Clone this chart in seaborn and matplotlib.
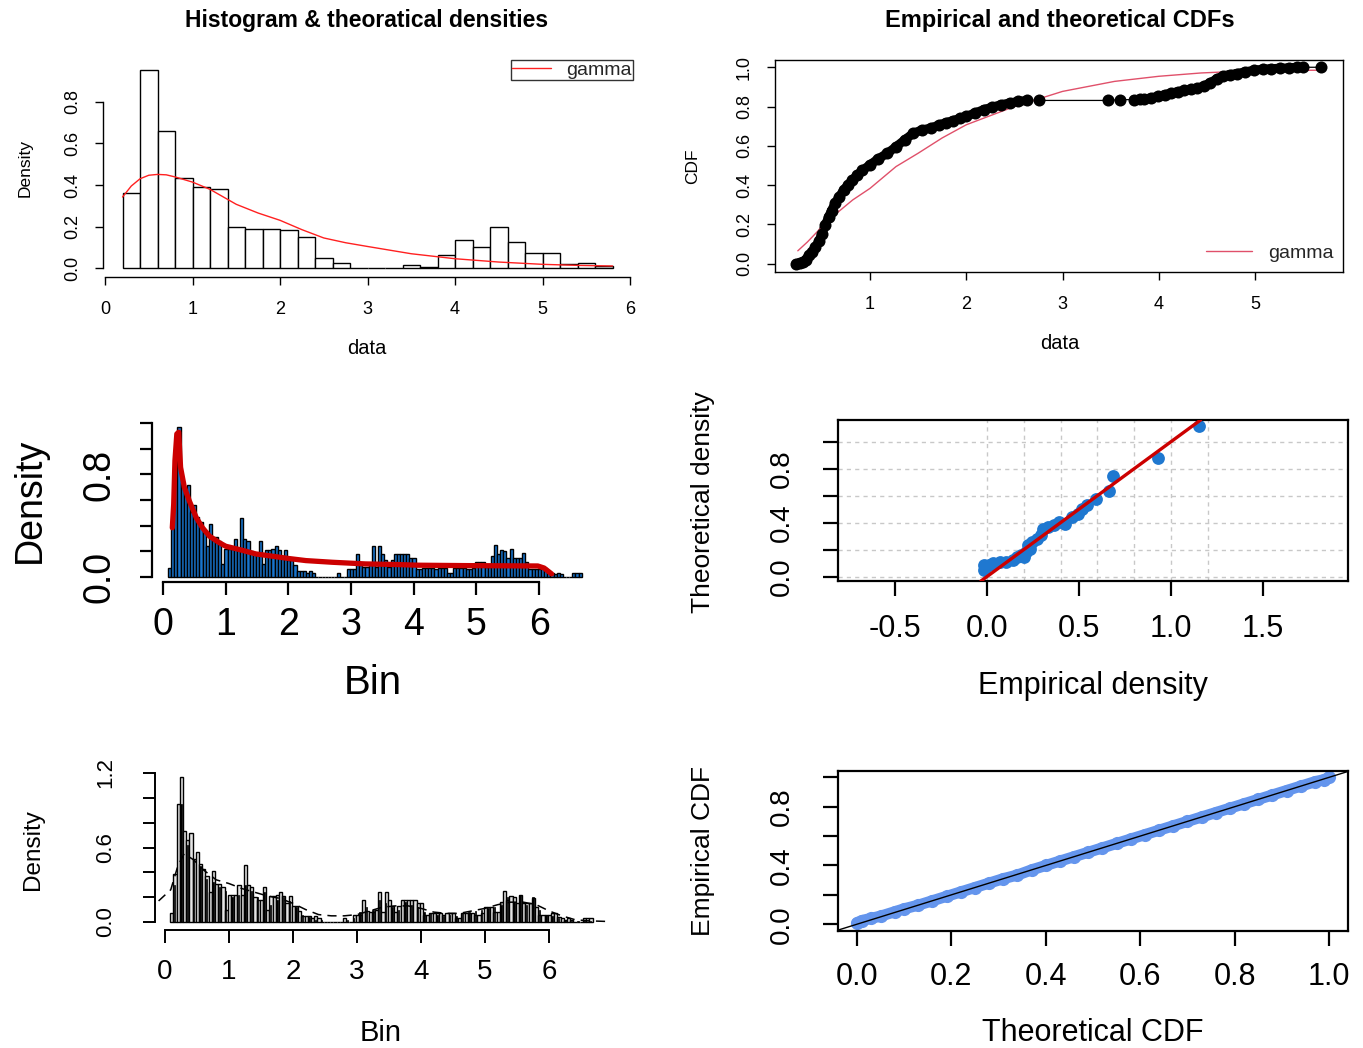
import numpy as np
import pandas as pd
import matplotlib
matplotlib.use("Agg")
import matplotlib.pyplot as plt
from matplotlib.lines import Line2D
import seaborn as sns

# ---------------- data ----------------
# top left: coarse histogram (density) + fitted gamma density
HIST_BREAKS = np.round(np.arange(0.2, 5.8 + 1e-9, 0.2), 1)
HIST_DENSITY = [0.361, 0.956, 0.660, 0.434, 0.390, 0.382, 0.196, 0.190, 0.190, 0.185,
                0.151, 0.048, 0.026, 0.0, 0.0, 0.0, 0.016, 0.005, 0.063, 0.135,
                0.103, 0.196, 0.124, 0.072, 0.072, 0.021, 0.026, 0.010]
GAMMA_PDF_X = [0.2, 0.3, 0.4, 0.5, 0.6, 0.7, 0.8, 1.0, 1.2, 1.5, 1.75, 2.0, 2.25, 2.5,
               2.75, 3.0, 3.5, 4.0, 4.5, 5.0, 5.4, 5.8]
GAMMA_PDF_Y = [0.342, 0.395, 0.430, 0.447, 0.451, 0.449, 0.439, 0.414, 0.379, 0.307,
               0.265, 0.230, 0.185, 0.145, 0.122, 0.104, 0.069, 0.045, 0.029, 0.018,
               0.013, 0.010]

# top right: empirical CDF + gamma CDF
ECDF_X = [0.23, 0.27, 0.30, 0.33, 0.365, 0.40, 0.433, 0.47, 0.50, 0.535, 0.57, 0.60,
          0.637, 0.68, 0.727, 0.77, 0.818, 0.87, 0.92, 1.0, 1.08, 1.18, 1.27, 1.36,
          1.45, 1.54, 1.63, 1.72, 1.79, 1.86, 1.93, 2.0, 2.09, 2.18, 2.27, 2.36, 2.45,
          2.54, 2.63, 2.76, 3.47, 3.60, 3.74, 3.80, 3.85, 3.92, 3.99, 4.06, 4.13, 4.20,
          4.26, 4.33, 4.40, 4.47, 4.53, 4.60, 4.67, 4.74, 4.81, 4.90, 4.99, 5.08, 5.17,
          5.26, 5.35, 5.44, 5.50, 5.69]
ECDF_F = [0.0, 0.003, 0.009, 0.020, 0.043, 0.060, 0.085, 0.115, 0.153, 0.195, 0.238,
          0.270, 0.307, 0.340, 0.375, 0.400, 0.426, 0.450, 0.475, 0.503, 0.532, 0.562,
          0.595, 0.630, 0.664, 0.681, 0.690, 0.707, 0.718, 0.728, 0.739, 0.750, 0.767,
          0.784, 0.797, 0.809, 0.818, 0.826, 0.831, 0.831, 0.831, 0.835, 0.835, 0.836,
          0.838, 0.844, 0.852, 0.860, 0.869, 0.876, 0.882, 0.887, 0.894, 0.905, 0.920,
          0.940, 0.957, 0.963, 0.968, 0.977, 0.985, 0.990, 0.993, 0.995, 0.997, 1.0,
          1.0, 1.0]
GAMMA_CDF_X = [0.25, 0.35, 0.5, 0.65, 0.82, 1.0, 1.27, 1.5, 1.75, 2.0, 2.5, 3.0, 3.54,
               4.0, 4.44, 5.0, 5.69]
GAMMA_CDF_F = [0.065, 0.110, 0.187, 0.255, 0.324, 0.383, 0.494, 0.562, 0.640, 0.707,
               0.800, 0.877, 0.928, 0.954, 0.971, 0.983, 0.985]

# middle left / bottom left: fine histogram (bin 0.05) + fitted curve
FINE_BREAKS = np.round(0.08 + 0.05 * np.arange(133), 3)
FINE_DENSITY = [0.07, 0.39, 0.95, 1.17, 0.73, 0.66, 0.72, 0.51, 0.56, 0.47,
                0.43, 0.37, 0.24, 0.41, 0.31, 0.31, 0.28, 0.10, 0.22, 0.22,
                0.22, 0.30, 0.22, 0.46, 0.30, 0.28, 0.20, 0.18, 0.18, 0.28,
                0.10, 0.21, 0.21, 0.22, 0.24, 0.21, 0.15, 0.21, 0.13, 0.13,
                0.09, 0.05, 0.05, 0.05, 0.03, 0.05, 0.03, 0.00, 0.00, 0.00,
                0.00, 0.00, 0.00, 0.00, 0.03, 0.00, 0.00, 0.06, 0.06, 0.06,
                0.18, 0.09, 0.08, 0.08, 0.10, 0.24, 0.08, 0.24, 0.18, 0.13,
                0.08, 0.13, 0.18, 0.18, 0.18, 0.18, 0.18, 0.15, 0.15, 0.06,
                0.06, 0.07, 0.07, 0.07, 0.07, 0.06, 0.07, 0.07, 0.07, 0.03,
                0.03, 0.07, 0.07, 0.07, 0.07, 0.06, 0.06, 0.07, 0.12, 0.12,
                0.12, 0.08, 0.08, 0.16, 0.25, 0.18, 0.21, 0.20, 0.15, 0.22,
                0.15, 0.15, 0.15, 0.19, 0.12, 0.06, 0.06, 0.06, 0.06, 0.07,
                0.07, 0.04, 0.03, 0.02, 0.03, 0.02, 0.00, 0.00, 0.00, 0.03,
                0.03, 0.03]
FIT_X = [0.148, 0.17, 0.19, 0.22, 0.25, 0.28, 0.34, 0.42, 0.53, 0.63, 0.74, 0.90, 1.0,
         1.22, 1.48, 1.75, 2.01, 2.28, 2.70, 3.23, 3.76, 4.07, 4.81, 5.98, 6.08, 6.20]
FIT_Y = [0.384, 0.567, 0.907, 1.116, 1.130, 0.855, 0.700, 0.593, 0.463, 0.384, 0.319,
         0.267, 0.240, 0.214, 0.180, 0.162, 0.144, 0.128, 0.115, 0.102, 0.097, 0.092,
         0.089, 0.086, 0.070, 0.024]

# bottom left: second (dark) bar layer and dashed kernel density
COARSE_MIDS = np.round(0.15 + 0.1 * np.arange(66), 2)
COARSE_DENSITY = [0.30, 0.95, 0.62, 0.50, 0.45, 0.35, 0.32, 0.28, 0.25, 0.20,
                  0.22, 0.30, 0.25, 0.20, 0.24, 0.14, 0.18, 0.20, 0.17, 0.12,
                  0.06, 0.04, 0.02, 0.02, 0.00, 0.00, 0.00, 0.02, 0.03, 0.08,
                  0.12, 0.10, 0.18, 0.15, 0.12, 0.10, 0.16, 0.14, 0.12, 0.08,
                  0.07, 0.06, 0.05, 0.06, 0.05, 0.07, 0.08, 0.09, 0.10, 0.11,
                  0.12, 0.14, 0.20, 0.16, 0.22, 0.14, 0.20, 0.10, 0.06, 0.05,
                  0.03, 0.02, 0.01, 0.01, 0.01, 0.01]
KDE_X = [-0.10, 0.09, 0.2, 0.3, 0.45, 0.6, 0.8, 1.0, 1.2, 1.4, 1.6, 1.8, 2.0, 2.2,
         2.4, 2.6, 2.8, 3.0, 3.2, 3.4, 3.6, 3.8, 4.0, 4.2, 4.4, 4.6, 4.8, 5.0, 5.2,
         5.4, 5.6, 5.8, 6.0, 6.2, 6.4, 6.6, 6.9]
KDE_Y = [0.17, 0.26, 0.45, 0.55, 0.50, 0.42, 0.34, 0.31, 0.27, 0.24, 0.21, 0.19, 0.15,
         0.10, 0.06, 0.05, 0.05, 0.06, 0.09, 0.12, 0.13, 0.13, 0.11, 0.08, 0.07, 0.07,
         0.09, 0.11, 0.14, 0.16, 0.16, 0.14, 0.09, 0.05, 0.02, 0.01, 0.005]

# middle right: empirical vs theoretical density
EMP_DENS = [-0.014, -0.014, 0.01, 0.033, 0.069, 0.104, 0.14, 0.164, 0.187, 0.199, 0.21,
            0.223, 0.235, 0.246, 0.27, 0.294, 0.306, 0.33, 0.365, 0.389, 0.424, 0.46,
            0.495, 0.519, 0.543, 0.59, 0.661, 0.685, 0.929, 1.152]
THEO_DENS = [0.086, 0.049, 0.090, 0.098, 0.105, 0.110, 0.123, 0.147, 0.160, 0.147,
             0.184, 0.233, 0.208, 0.257, 0.282, 0.306, 0.355, 0.368, 0.380, 0.404,
             0.392, 0.440, 0.466, 0.502, 0.527, 0.576, 0.637, 0.743, 0.882, 1.115]

# bottom right: P-P plot
PP_THEO = [0.00, 0.01, 0.03, 0.05, 0.08, 0.10, 0.13, 0.16, 0.19, 0.22, 0.25, 0.28,
           0.31, 0.34, 0.37, 0.40, 0.43, 0.46, 0.49, 0.52, 0.55, 0.58, 0.61, 0.64,
           0.67, 0.70, 0.73, 0.76, 0.79, 0.82, 0.85, 0.88, 0.91, 0.94, 0.97, 0.99, 1.00]
PP_EMP = [0.010, 0.025, 0.040, 0.055, 0.085, 0.105, 0.130, 0.160, 0.190, 0.220, 0.250,
          0.280, 0.310, 0.335, 0.370, 0.400, 0.430, 0.460, 0.490, 0.520, 0.550, 0.580,
          0.610, 0.640, 0.670, 0.700, 0.730, 0.760, 0.790, 0.820, 0.850, 0.880, 0.910,
          0.940, 0.970, 0.985, 1.000]

# ---------------- figure ----------------
sns.set_style("ticks")
plt.rcParams["font.family"] = ["Liberation Sans", "DejaVu Sans"]
plt.rcParams["axes.edgecolor"] = "black"
plt.rcParams["xtick.color"] = "black"
plt.rcParams["ytick.color"] = "black"

W, H = 1363, 1048
fig = plt.figure(figsize=(W / 100, H / 100), dpi=100, facecolor="white")


def box(l, t, r, b):
    return [l / W, 1 - b / H, (r - l) / W, (b - t) / H]


def ftext(x, y, s, size, rot=0, weight="normal"):
    fig.text(x / W, 1 - y / H, s, fontsize=size, rotation=rot, fontweight=weight,
             ha="center", va="center", color="black")


def r_axes(ax, xb, yb, lw):
    for s in ["top", "right"]:
        ax.spines[s].set_visible(False)
    ax.spines["bottom"].set_bounds(*xb)
    ax.spines["left"].set_bounds(*yb)
    for s in ["bottom", "left"]:
        ax.spines[s].set_linewidth(lw)


def y_ticks(ax, ticks, labels, size, pad):
    ax.set_yticks(ticks)
    ax.set_yticklabels(labels, rotation=90, va="center", fontsize=size)
    ax.tick_params(axis="y", pad=pad)


def clear_labels(ax):
    ax.set_xlabel("")
    ax.set_ylabel("")


def hist_frame(breaks, density):
    b = np.asarray(breaks, dtype=float)
    return pd.DataFrame({"mid": (b[:-1] + b[1:]) / 2, "dens": density})


# ---- panel 1: histogram & theoretical density ----
ax1 = fig.add_axes(box(103, 60, 633, 277))
sns.histplot(data=hist_frame(HIST_BREAKS, HIST_DENSITY), x="mid", weights="dens",
             bins=list(HIST_BREAKS), ax=ax1, color="white", edgecolor="black",
             linewidth=1.0, alpha=1)
sns.lineplot(x=GAMMA_PDF_X, y=GAMMA_PDF_Y, ax=ax1, color="#FF2020", linewidth=1.0)
ax1.set_xlim(-0.023, 6.034)
ax1.set_ylim(-0.043, 1.002)
r_axes(ax1, (0, 6), (0, 0.8), 1.0)
ax1.set_xticks(range(7))
ax1.tick_params(axis="x", labelsize=13, length=6, pad=11, width=1)
ax1.tick_params(axis="y", length=6, width=1)
y_ticks(ax1, np.arange(0, 0.81, 0.2), ["0.0", "0.2", "0.4", "0.6", "0.8"], 13, 10)
clear_labels(ax1)
leg = ax1.legend(handles=[Line2D([], [], color="#FF2020", lw=1)], labels=["gamma"],
                 loc="upper right", fontsize=14, frameon=True, fancybox=False,
                 borderaxespad=0, handlelength=2.0, borderpad=0.05,
                 handletextpad=0.8)
leg.get_frame().set_edgecolor("black")
leg.get_frame().set_linewidth(1.0)
ftext(367, 20, "Histogram & theoratical densities", 16.5, weight="bold")
ftext(367, 349, "data", 14.5)
ftext(25, 168, "Density", 12.5, rot=90)

# ---- panel 2: empirical and theoretical CDFs ----
ax2 = fig.add_axes(box(775, 60, 1343, 272))
ex = np.array(ECDF_X)
ef = np.array(ECDF_F)
sns.lineplot(x=ex, y=ef, ax=ax2, color="black", linewidth=0.9)
for i in range(len(ex) - 1):
    if ex[i + 1] - ex[i] < 0.1:
        ax2.plot(ex[i:i + 2], ef[i:i + 2], color="black", lw=6.5,
                 solid_capstyle="round")
sns.scatterplot(x=ex, y=ef, ax=ax2, color="black", s=75, edgecolor="black",
                linewidth=0, zorder=3)
sns.lineplot(x=GAMMA_CDF_X, y=GAMMA_CDF_F, ax=ax2, color="#E0506A", linewidth=1.0)
ax2.set_xlim(0.013, 5.914)
ax2.set_ylim(-0.043, 1.037)
for s in ax2.spines.values():
    s.set_linewidth(1.0)
ax2.set_xticks([1, 2, 3, 4, 5])
ax2.tick_params(axis="x", labelsize=13, length=6, pad=11, width=1)
ax2.tick_params(axis="y", length=6, width=1)
y_ticks(ax2, np.arange(0, 1.01, 0.2), ["0.0", "0.2", "0.4", "0.6", "0.8", "1.0"], 13, 10)
clear_labels(ax2)
ax2.legend(handles=[Line2D([], [], color="#E0506A", lw=1)], labels=["gamma"],
           loc="lower right", fontsize=14, frameon=False, handlelength=2.4,
           borderaxespad=0.1)
ftext(1060, 20, "Empirical and theoretical CDFs", 17, weight="bold")
ftext(1060, 343, "data", 14.5)
ftext(693, 166, "CDF", 12.5, rot=90)

# ---- panel 3: fine histogram with fitted curve ----
ax3 = fig.add_axes(box(152, 421, 598, 582))
sns.histplot(data=hist_frame(FINE_BREAKS, FINE_DENSITY), x="mid", weights="dens",
             bins=list(FINE_BREAKS), ax=ax3, color="#1874CD", edgecolor="black",
             linewidth=1.0, alpha=1)
sns.lineplot(x=FIT_X, y=FIT_Y, ax=ax3, color="#CC0000", linewidth=3.8)
ax3.set_xlim(-0.176, 6.94)
ax3.set_ylim(-0.039, 1.217)
r_axes(ax3, (0, 6), (0, 1.2), 1.6)
ax3.set_xticks(range(7))
ax3.tick_params(axis="x", labelsize=27, length=9, pad=9, width=1.6)
ax3.tick_params(axis="y", length=9, width=1.6)
y_ticks(ax3, np.arange(0, 1.21, 0.2), ["0.0", "", "", "", "0.8", "", ""], 27, 16)
clear_labels(ax3)
ftext(373, 683, "Bin", 29)
ftext(30, 500, "Density", 27, rot=90)

# ---- panel 4: theoretical vs empirical density ----
ax4 = fig.add_axes(box(838, 420, 1348, 581))
for g in np.arange(0, 1.21, 0.2):
    ax4.axvline(g, color="#c8c8c8", lw=1, ls=(0, (3, 3)), zorder=0)
for g in np.arange(0, 1.01, 0.2):
    ax4.axhline(g, color="#c8c8c8", lw=1, ls=(0, (3, 3)), zorder=0)
sns.scatterplot(x=EMP_DENS, y=THEO_DENS, ax=ax4, color="#1F78D0", s=85,
                edgecolor="#1F78D0", linewidth=0, zorder=2)
ax4.axline((0, 0), slope=1, color="#CC0000", lw=2.4, zorder=3)
ax4.set_xlim(-0.808, 1.96)
ax4.set_ylim(-0.032, 1.16)
for s in ax4.spines.values():
    s.set_linewidth(1.6)
ax4.set_xticks([-0.5, 0, 0.5, 1.0, 1.5])
ax4.set_xticklabels(["-0.5", "0.0", "0.5", "1.0", "1.5"])
ax4.tick_params(axis="x", labelsize=22, length=11, pad=13, width=1.6)
ax4.tick_params(axis="y", length=11, width=1.6)
y_ticks(ax4, np.arange(0, 1.01, 0.2), ["0.0", "", "0.4", "", "0.8", ""], 20, 20)
clear_labels(ax4)
ftext(1093, 686, "Empirical density", 22)
ftext(703, 502, "Theoretical density", 19, rot=90)

# ---- panel 5: overlaid histograms with kernel density ----
ax5 = fig.add_axes(box(155, 770, 613, 930))
sns.histplot(data=hist_frame(FINE_BREAKS, FINE_DENSITY), x="mid", weights="dens",
             bins=list(FINE_BREAKS), ax=ax5, color="#E4E4E4", edgecolor="black",
             linewidth=1.0, alpha=1)
ax5.bar(COARSE_MIDS, COARSE_DENSITY, width=0.022, color="black", edgecolor="black",
        linewidth=0.5, zorder=3)
sns.lineplot(x=KDE_X, y=KDE_Y, ax=ax5, color="black", linewidth=1.1,
             linestyle=(0, (6, 4)), zorder=4)
ax5.set_xlim(-0.156, 7.0)
ax5.set_ylim(-0.064, 1.224)
r_axes(ax5, (0, 6), (0, 1.2), 1.4)
ax5.set_xticks(range(7))
ax5.tick_params(axis="x", labelsize=20, length=9, pad=12, width=1.4)
ax5.tick_params(axis="y", length=9, width=1.4)
y_ticks(ax5, np.arange(0, 1.21, 0.2), ["0.0", "", "", "0.6", "", "", "1.2"], 16, 19)
clear_labels(ax5)
ftext(381, 1033, "Bin", 21)
ftext(33, 850, "Density", 17.5, rot=90)

# ---- panel 6: P-P plot ----
ax6 = fig.add_axes(box(838, 771, 1348, 931))
sns.lineplot(x=PP_THEO, y=PP_EMP, ax=ax6, color="#6495ED", linewidth=8,
             solid_capstyle="round")
sns.scatterplot(x=PP_THEO, y=PP_EMP, ax=ax6, color="#6495ED", s=90,
                edgecolor="#6495ED", linewidth=0)
ax6.axline((0, 0), slope=1, color="black", lw=1.0, zorder=3)
ax6.set_xlim(-0.04, 1.04)
ax6.set_ylim(-0.046, 1.043)
for s in ax6.spines.values():
    s.set_linewidth(1.6)
ax6.set_xticks(np.arange(0, 1.01, 0.2))
ax6.set_xticklabels(["0.0", "0.2", "0.4", "0.6", "0.8", "1.0"])
ax6.tick_params(axis="x", labelsize=22, length=11, pad=11, width=1.6)
ax6.tick_params(axis="y", length=11, width=1.6)
y_ticks(ax6, np.arange(0, 1.01, 0.2), ["0.0", "", "0.4", "", "0.8", ""], 20, 20)
clear_labels(ax6)
ftext(1093, 1033, "Theoretical CDF", 22)
ftext(703, 851, "Empirical CDF", 19, rot=90)

fig.savefig("out.png", dpi=100, facecolor="white")
